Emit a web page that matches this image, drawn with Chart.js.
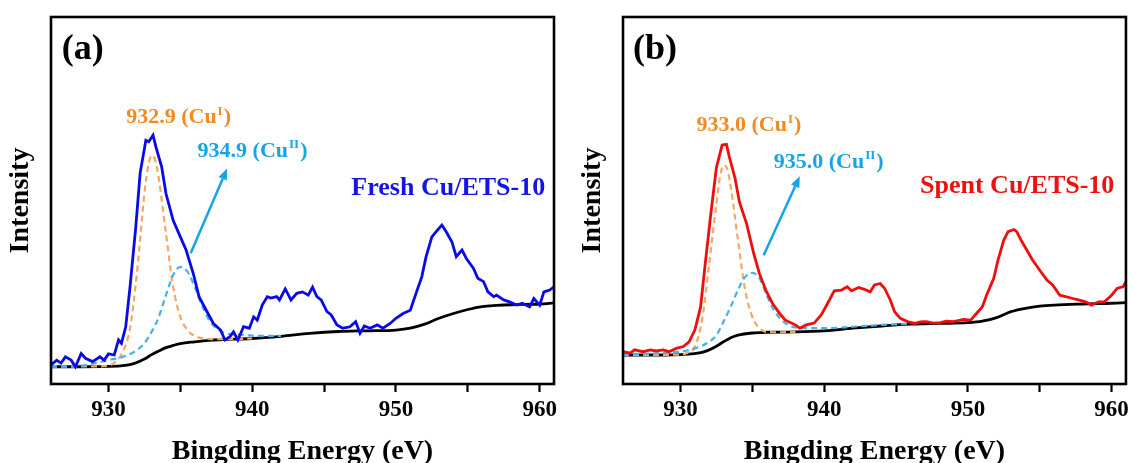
<!DOCTYPE html>
<html><head><meta charset="utf-8">
<script src="https://cdn.jsdelivr.net/npm/chart.js@4.4.1/dist/chart.umd.min.js"></script>
<style>
html,body{margin:0;padding:0;background:#fff;overflow:hidden;width:1133px;height:463px;}
canvas{position:absolute;top:0;}
#ca{left:0}
#cb{left:572px}
</style></head><body>
<canvas id="ca" width="566" height="470"></canvas>
<canvas id="cb" width="561" height="470"></canvas>
<script>
// ---------- axis ----------
const xTicks = [930, 935, 940, 945, 950, 955, 960];

// ---------- panel (a): Fresh Cu/ETS-10 ----------
const freshEnergy = [926,926.4,926.7,927.0,927.4,927.7,928.1,928.4,928.9,929.4,929.7,930.0,930.4,930.7,930.9,931.2,931.5,931.9,932.2,932.6,932.8,933.1,933.3,933.7,934.0,934.5,935.0,935.4,935.9,936.3,936.8,937.3,937.8,938.1,938.45,938.7,939.0,939.4,939.8,940.1,940.35,940.7,941.05,941.3,941.7,941.9,942.3,942.7,943.1,943.5,943.9,944.2,944.5,944.8,945.2,945.5,945.9,946.3,946.8,947.2,947.5,947.8,948.2,948.7,949.1,949.6,950.0,950.5,951.0,951.4,951.8,952.1,952.5,952.8,953.2,953.5,953.9,954.2,954.6,954.9,955.4,955.7,956.1,956.4,956.8,957.0,957.5,957.9,958.4,958.8,959.3,959.6,960.0,960.3,960.7,961.0];
const freshIntensity = [5.2,6.5,5.7,7.4,6.5,4.7,8.3,7.0,6.1,7.4,6.5,8.2,7.9,12.0,11.1,15.6,26.5,42.8,57.4,66.4,66.0,67.8,64.6,59.2,51.9,44.6,40.1,36.5,30.1,23.8,20.1,16.5,14.7,12.0,12.9,14.2,12.0,15.6,15.2,18.3,17.4,21.5,23.8,23.4,23.8,22.9,25.9,22.9,24.7,25.1,24.2,26.4,23.8,22.9,19.7,18.8,16.1,15.2,15.6,17.0,13.8,15.8,15.2,16.1,15.2,16.5,17.9,19.2,20.1,24.7,29.2,34.7,40.1,41.5,43.3,41.5,38.7,34.7,36.5,34.2,31.5,28.8,27.9,25.1,23.8,24.2,22.9,22.4,21.5,22.0,21.0,23.3,21.5,25.1,25.6,26.5];

const bgAEnergy = [926,928,930,931,931.5,932,932.5,933,933.5,934,934.5,935,936,937,938,940,942,944,946,948,950,951,952,953,954,955,956,957,958,960,961];
const bgAIntensity = [4.7,4.7,4.8,5.0,5.3,5.9,6.8,8.0,9.0,9.9,10.5,11.0,11.5,11.9,12.1,12.4,13.0,13.8,14.3,14.5,14.7,15.2,16.3,17.9,19.2,20.3,21.1,21.4,21.6,21.8,22.1];

const cuIAEnergy = [926,929,930,930.5,931,931.5,932,932.5,932.75,933,933.25,933.5,934,934.5,935,935.5,936,937,938,940];
const cuIAIntensity = [4.7,4.8,5.0,6.1,8.8,15.2,31.0,51.9,59.2,62.3,61.0,56.0,41.0,26.5,18.3,14.7,13.1,12.3,12.2,12.4];

const cuIIAEnergy = [926,928,929,930,931,932,932.5,933,933.5,934,934.5,935,935.5,936,936.5,937,937.5,938,939,940,941,942];
const cuIIAIntensity = [4.9,5.0,5.6,6.5,7.4,9.3,11.1,14.2,18.3,24.2,29.7,31.9,30.6,26.5,21.5,17.4,15.2,14.0,13.5,13.2,13.1,13.1];

// ---------- panel (b): Spent Cu/ETS-10 ----------
const spentEnergy = [926,926.5,926.8,927.4,927.9,928.3,928.8,929.2,929.7,930.2,930.6,931.0,931.4,931.7,932.1,932.5,932.9,933.2,933.4,933.8,934.1,934.6,935.1,935.5,936.0,936.4,936.9,937.3,938.0,938.3,938.75,939.3,939.8,940.3,940.7,941.2,941.6,941.9,942.4,942.8,943.2,943.5,943.9,944.2,944.6,944.9,945.3,945.8,946.3,946.7,947.1,947.6,948.1,948.5,949.0,949.7,950.2,950.5,951.0,951.3,951.8,952.1,952.5,952.8,953.2,953.4,953.7,954.1,954.5,955.0,955.5,955.9,956.4,956.8,957.3,957.7,958.2,958.6,959.1,959.5,960.0,960.4,960.8,961.0];
const spentIntensity = [8.8,8.4,9.3,8.8,9.3,9.0,9.3,8.8,9.7,10.2,11.5,14.7,21.0,32.0,46.0,59.0,65.1,65.3,61.9,56.0,49.6,43.7,35.5,30.0,25.0,22.0,19.2,17.4,16.1,15.2,16.1,16.6,18.8,22.4,25.4,25.6,26.5,25.4,26.3,25.8,25.1,27.0,27.4,26.1,22.9,19.7,17.9,17.0,16.5,16.9,17.0,16.6,16.7,17.1,17.0,17.6,17.4,18.8,21.0,24.2,28.8,33.8,39.2,41.5,42.1,41.5,39.2,36.5,33.8,31.0,28.3,27.0,24.2,23.8,23.3,22.9,22.4,21.5,22.4,22.4,24.2,26.1,26.5,27.9];

const bgBEnergy = [926,929,930,931,931.5,932,932.5,933,933.5,934,935,936,938,940,942,944,946,948,950,951,952,953,954,955,956,958,960,961];
const bgBIntensity = [7.9,7.9,8.0,8.3,8.6,9.3,10.3,11.5,12.6,13.3,13.9,14.1,14.2,14.5,15.2,15.8,16.3,16.5,16.7,17.1,18.1,19.7,20.6,21.2,21.5,21.8,22.0,22.2];

const cuIBEnergy = [926,930,930.5,931,931.5,932,932.5,932.75,933,933.25,933.5,934,934.5,935,935.5,936,937,938];
const cuIBIntensity = [7.9,8.0,8.5,10.2,17.4,32.8,49.2,56.4,59.6,58.7,53.7,39.2,25.6,18.3,15.2,14.2,14.1,14.2];

const cuIIBEnergy = [926,928,929,930,931,932,932.5,933,933.5,934,934.5,935,935.5,936,936.5,937,937.5,938,939,940,942,944,946];
const cuIIBIntensity = [8.1,8.3,8.5,8.8,9.7,11.5,13.3,17.0,21.1,25.6,29.2,30.3,28.8,24.2,20.1,17.6,16.1,15.4,15.2,15.2,15.6,16.1,16.4];

// ---------- annotation anchors (data coordinates) ----------
const panelLabels = ['(a)', '(b)'];
const sampleNames = ['Fresh Cu/ETS-10', 'Spent Cu/ETS-10'];
const cuIText = ['932.9 (Cu', '933.0 (Cu'];
const cuIIText = ['934.9 (Cu', '935.0 (Cu'];
const panelLabelPos = [[926.75, 88.6], [926.7, 88.6]];
const cuIPos = [[931.23, 71.1], [931.11, 68.9]];
const cuIIPos = [[936.2, 61.9], [936.49, 58.9]];
const namePos = [[946.9, 51.5], [946.67, 52.0]];
const arrowFrom = [[935.72, 35.6], [935.79, 35.1]];
const arrowTo = [[938.25, 58.7], [938.3, 56.6]];

// ---------- styles ----------
const FONT = '"Liberation Serif", "Times New Roman", serif';
const ORANGE_TXT = '#F28A1E';
const ORANGE_DASH = '#F7A664';
const LBLUE_TXT = '#16A3EA';
const LBLUE_DASH = '#45B0EE';

function pts(xs, ys) { return xs.map((x, i) => ({x: x, y: ys[i]})); }

function drawSup(ctx, x, y, main, sup, size, color) {
  ctx.fillStyle = color;
  ctx.textBaseline = 'alphabetic';
  ctx.textAlign = 'left';
  ctx.font = 'bold ' + size + 'px ' + FONT;
  ctx.fillText(main, x, y);
  let w = ctx.measureText(main).width;
  ctx.font = 'bold ' + Math.round(size * 0.6) + 'px ' + FONT;
  ctx.fillText(sup, x + w + 1, y - size * 0.38);
  w += ctx.measureText(sup).width + 1;
  ctx.font = 'bold ' + size + 'px ' + FONT;
  ctx.fillText(')', x + w + 1, y);
}

function annotPlugin(idx, nameColor) {
  return {
    id: 'annot' + idx,
    afterDraw(chart) {
      const ctx = chart.ctx, xs = chart.scales.x, ys = chart.scales.y, a = chart.chartArea;
      const P = p => [xs.getPixelForValue(p[0]), ys.getPixelForValue(p[1])];
      ctx.save();
      // frame
      ctx.strokeStyle = '#000'; ctx.lineWidth = 2.6;
      ctx.strokeRect(a.left, a.top, a.right - a.left, a.bottom - a.top);
      // panel label
      let p = P(panelLabelPos[idx]);
      ctx.fillStyle = '#000'; ctx.textBaseline = 'alphabetic'; ctx.textAlign = 'left';
      ctx.font = 'bold 36px ' + FONT;
      ctx.fillText(panelLabels[idx], p[0], p[1]);
      // peak labels
      p = P(cuIPos[idx]); drawSup(ctx, p[0], p[1], cuIText[idx], 'I', 22, ORANGE_TXT);
      p = P(cuIIPos[idx]); drawSup(ctx, p[0], p[1], cuIIText[idx], 'II', 22, LBLUE_TXT);
      // sample name
      p = P(namePos[idx]);
      ctx.fillStyle = nameColor; ctx.font = 'bold 26px ' + FONT;
      ctx.fillText(sampleNames[idx], p[0], p[1]);
      // arrow
      const f = P(arrowFrom[idx]), t = P(arrowTo[idx]);
      const ang = Math.atan2(t[1] - f[1], t[0] - f[0]);
      const hl = 11, hw = 4.5;
      const bx = t[0] - hl * Math.cos(ang), by = t[1] - hl * Math.sin(ang);
      ctx.strokeStyle = LBLUE_TXT; ctx.lineWidth = 2.5;
      ctx.beginPath(); ctx.moveTo(f[0], f[1]); ctx.lineTo(bx, by); ctx.stroke();
      ctx.fillStyle = LBLUE_TXT;
      ctx.beginPath();
      ctx.moveTo(t[0], t[1]);
      ctx.lineTo(bx + hw * Math.sin(ang), by - hw * Math.cos(ang));
      ctx.lineTo(bx - hw * Math.sin(ang), by + hw * Math.cos(ang));
      ctx.closePath(); ctx.fill();
      ctx.restore();
    }
  };
}

function makeChart(id, idx, mainData, mainColor, bg, c1, c2, rightPad) {
  return new Chart(document.getElementById(id), {
    type: 'line',
    data: {
      datasets: [
        {data: mainData, borderColor: mainColor, borderWidth: 2.8, tension: 0, pointRadius: 0},
        {data: c2, borderColor: LBLUE_DASH, borderWidth: 2.2, borderDash: [6, 4], cubicInterpolationMode: 'monotone', pointRadius: 0},
        {data: c1, borderColor: ORANGE_DASH, borderWidth: 2.2, borderDash: [6, 4], cubicInterpolationMode: 'monotone', pointRadius: 0},
        {data: bg, borderColor: '#000', borderWidth: 2.8, cubicInterpolationMode: 'monotone', pointRadius: 0}
      ]
    },
    options: {
      responsive: false, animation: false, devicePixelRatio: 1,
      layout: {padding: {left: 0, right: rightPad, top: 17, bottom: 0}},
      plugins: {legend: {display: false}, tooltip: {enabled: false}},
      scales: {
        x: {
          type: 'linear', min: 926, max: 961,
          afterBuildTicks: s => { s.ticks = xTicks.map(v => ({value: v})); },
          afterFit: s => { s.height = 86; },
          grid: {display: true, drawOnChartArea: false, drawTicks: true, tickLength: 8, tickWidth: 2.2, tickColor: '#000'},
          border: {display: false},
          ticks: {padding: 4, color: '#000', font: {family: FONT, weight: 'bold', size: 23},
                  callback: v => (v % 10 === 0 ? String(v) : '')},
          title: {display: true, text: 'Bingding Energy (eV)', color: '#000',
                  font: {family: FONT, weight: 'bold', size: 28}, padding: {top: 0, bottom: 1}}
        },
        y: {
          min: 0, max: 100,
          afterFit: s => { s.width = 51; },
          grid: {display: false}, border: {display: false}, ticks: {display: false},
          title: {display: true, text: 'Intensity', color: '#000',
                  font: {family: FONT, weight: 'bold', size: 28}, padding: {top: 4, bottom: 0}}
        }
      }
    },
    plugins: [annotPlugin(idx, idx === 0 ? '#1414E6' : '#EE1111')]
  });
}

makeChart('ca', 0, pts(freshEnergy, freshIntensity), '#0A0AE8',
  pts(bgAEnergy, bgAIntensity), pts(cuIAEnergy, cuIAIntensity), pts(cuIIAEnergy, cuIIAIntensity), 12);
makeChart('cb', 1, pts(spentEnergy, spentIntensity), '#EE0E0E',
  pts(bgBEnergy, bgBIntensity), pts(cuIBEnergy, cuIBIntensity), pts(cuIIBEnergy, cuIIBIntensity), 6);
</script>
</body></html>
